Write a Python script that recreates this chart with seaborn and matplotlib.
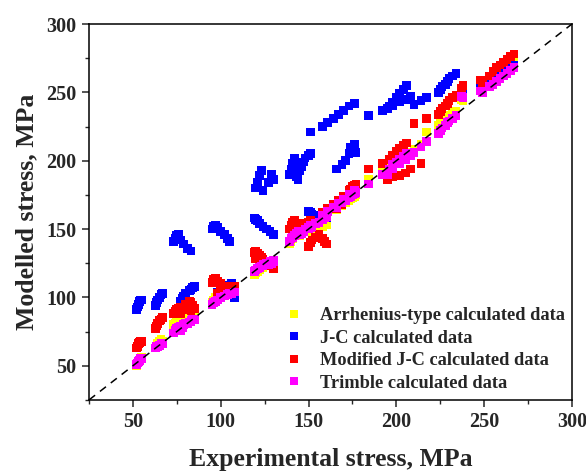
import numpy as np
import pandas as pd
import matplotlib
matplotlib.use("Agg")
import matplotlib.pyplot as plt
from matplotlib.ticker import MultipleLocator
import seaborn as sns

# Experimental flow stress (MPa) and the stress predicted by each constitutive model
experimental = [
    52, 52.5, 53, 53.5, 54, 55,
    63, 63.5, 64, 65, 66, 67,
    73, 74, 75, 76, 77, 79, 81, 83,
    77, 78, 79, 80, 82, 83, 84, 85,
    95, 96, 97, 98, 100, 102, 104, 105,
    98, 100, 102, 104, 106, 108,
    119, 120, 121, 122, 124, 126, 128, 130,
    120, 121, 122, 123, 124, 127, 129, 130,
    139, 140, 141, 142, 143, 144,
    145, 146, 147, 148, 150, 151,
    150, 151, 152, 154, 156, 158, 159, 160,
    151, 158, 161, 164, 167, 170, 173, 176,
    166, 169, 171, 173, 174, 175, 176, 177,
    184, 192, 196, 198, 200, 202, 204, 206,
    195, 198, 202, 205, 208, 210, 214, 217,
    224, 225, 226, 228, 229, 230, 232, 234,
    237, 238,
    248, 249,
    253, 255, 257, 259, 261, 263, 265, 267,
]
arrhenius = [
    50, 52, 53, 54, 55, 56,
    63, 64, 66, 68, 69, 68,
    80, 81, 82, 84, 85, 86, 87, 88,
    78, 80, 82, 84, 85, 86, 87, 88,
    96, 98, 100, 101, 103, 104, 105, 106,
    100, 102, 104, 105, 106, 108,
    117, 118, 119, 120, 122, 124, 125, 127,
    120, 121, 122, 123, 124, 125, 126, 126,
    139, 141, 143, 145, 146, 147,
    145, 147, 148, 150, 151, 152,
    148, 149, 150, 150, 151, 152, 153, 153,
    153, 160, 163, 166, 169, 172, 175, 177,
    164, 167, 169, 171, 172, 173, 174, 175,
    186, 193, 196, 198, 200, 202, 204, 206,
    193, 196, 200, 203, 206, 208, 212, 221,
    226, 228, 229, 231, 232, 233, 235, 236,
    245, 244,
    256, 255,
    260, 262, 264, 266, 268, 270, 271, 272,
]
jc = [
    91, 93, 95, 97, 98, 98,
    94, 96, 98, 100, 102, 103,
    141, 143, 145, 146, 142, 139, 136, 134,
    97, 99, 101, 103, 105, 106, 107, 108,
    150, 152, 153, 151, 148, 146, 143, 141,
    104, 106, 108, 109, 110, 100,
    158, 157, 156, 154, 152, 150, 148, 146,
    180, 184, 189, 193, 178, 184, 190, 186,
    190, 194, 198, 202, 188, 186,
    193, 196, 199, 202, 204, 205,
    163, 162, 161, 160, 160, 159, 159, 158,
    221, 225, 228, 231, 234, 237, 240, 242,
    194, 197, 200, 205, 210, 208, 212, 206,
    233, 237, 240, 243, 246, 249, 252, 255,
    238, 240, 243, 245, 247, 241, 244, 246,
    250, 252, 254, 256, 258, 260, 262, 264,
    249, 251,
    253, 252,
    257, 258, 260, 262, 264, 266, 268, 270,
]
modified_jc = [
    63, 64, 66, 67, 68, 68,
    77, 79, 81, 83, 84, 85,
    88, 90, 91, 92, 93, 92, 91, 90,
    88, 91, 93, 95, 97, 96, 94, 92,
    111, 113, 114, 112, 110, 108, 107, 106,
    103, 105, 106, 107, 108, 108,
    133, 134, 132, 130, 128, 126, 124, 122,
    128, 130, 131, 129, 127, 125, 123, 121,
    150, 153, 155, 156, 154, 152,
    148, 150, 152, 154, 155, 156,
    137, 140, 142, 144, 146, 143, 141, 139,
    156, 162, 165, 168, 171, 174, 178, 181,
    165, 168, 171, 175, 179, 181, 182, 183,
    194, 198, 201, 204, 207, 209, 211, 213,
    186, 188, 189, 191, 194, 227, 198, 231,
    234, 236, 238, 240, 242, 244, 246, 248,
    253, 255,
    259, 257,
    262, 265, 268, 270, 272, 274, 276, 278,
]
trimble = [
    51, 52, 53, 54, 55, 55,
    63, 64, 64, 65, 66, 66,
    74, 76, 77, 78, 79, 80, 81, 82,
    76, 78, 80, 81, 82, 83, 84, 84,
    95, 96, 97, 98, 100, 101, 102, 103,
    98, 100, 101, 102, 103, 104,
    119, 120, 121, 122, 123, 125, 126, 127,
    120, 121, 122, 123, 124, 124, 125, 126,
    141, 143, 144, 145, 147, 148,
    146, 147, 148, 150, 151, 152,
    150, 151, 152, 154, 155, 157, 158, 159,
    153, 160, 163, 166, 169, 172, 175, 178,
    166, 169, 171, 173, 174, 175, 176, 177,
    183, 190, 194, 197, 199, 201, 203, 205,
    190, 194, 198, 201, 204, 206, 210, 214,
    220, 222, 224, 226, 228, 229, 231, 233,
    247, 246,
    251, 250,
    254, 256, 258, 260, 262, 264, 266, 268,
]

series_names = [
    "Arrhenius-type calculated data",
    "J-C calculated data",
    "Modified J-C calculated data",
    "Trimble calculated data",
]
series_colors = ["#ffff00", "#0000ff", "#ff0000", "#ff00ff"]
axis_ticks = [50, 100, 150, 200, 250, 300]

frames = []
for name, values in zip(series_names, [arrhenius, jc, modified_jc, trimble]):
    frames.append(pd.DataFrame({"experimental": experimental,
                                "modelled": values,
                                "model": name}))
df = pd.concat(frames, ignore_index=True)

sns.set_style("ticks")
plt.rcParams["font.family"] = ["Liberation Serif", "DejaVu Serif"]
plt.rcParams["font.weight"] = "bold"

fig = plt.figure(figsize=(5.86, 4.71), dpi=100)
ax = fig.add_axes([0.152, 0.151, 0.824, 0.798])

sns.scatterplot(data=df, x="experimental", y="modelled", hue="model",
                hue_order=series_names,
                palette=dict(zip(series_names, series_colors)),
                marker="s", s=40, linewidth=0, edgecolor="none",
                ax=ax, zorder=3)

ax.plot([25, 300], [25, 300], color="black", linestyle=(0, (5, 4)),
        linewidth=1.1, zorder=4)

ax.set_xlim(25, 300)
ax.set_ylim(25, 300)
ax.set_xticks(axis_ticks)
ax.set_yticks(axis_ticks)
ax.xaxis.set_minor_locator(MultipleLocator(25))
ax.yaxis.set_minor_locator(MultipleLocator(25))
ax.tick_params(which="major", direction="out", length=5, width=1.1,
               labelsize=14.5, pad=4, top=False, right=False)
ax.tick_params(which="minor", direction="out", length=3, width=1.0,
               top=False, right=False)
for lab in ax.get_xticklabels() + ax.get_yticklabels():
    lab.set_fontweight("bold")
for sp in ax.spines.values():
    sp.set_linewidth(1.1)
    sp.set_color("black")

ax.set_xlabel("Experimental stress, MPa", fontsize=18.5, fontweight="bold",
              labelpad=11)
ax.set_ylabel("Modelled stress, MPa", fontsize=18.5, fontweight="bold",
              labelpad=6)

leg = ax.legend(loc="lower right", bbox_to_anchor=(1.0, 0.002), frameon=False,
                prop={"family": "Liberation Serif", "weight": "bold", "size": 13.2},
                markerscale=0.9, handletextpad=0.4, labelspacing=0.3,
                borderaxespad=0.0, title=None)

fig.savefig("out.png", dpi=100)
